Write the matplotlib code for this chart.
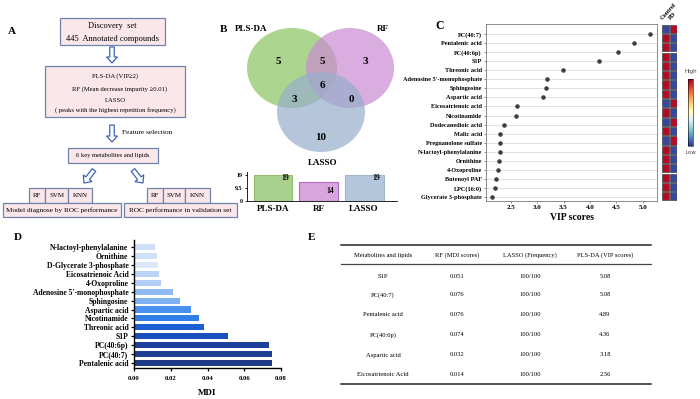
import matplotlib
matplotlib.use('Agg')
import matplotlib.pyplot as plt
from matplotlib.patches import Rectangle, Ellipse, FancyArrow
from matplotlib.cm import ScalarMappable
import numpy as np

plt.rcParams['font.family'] = ['Liberation Serif', 'DejaVu Serif']

W, H = 700, 399

# ---------------- data ----------------
# panel B: venn regions and set sizes
venn_sets = ['PLS-DA', 'RF', 'LASSO']
venn_regions = ['PLS-DA only', 'PLS-DA&RF', 'RF only', 'all', 'PLS-DA&LASSO', 'RF&LASSO', 'LASSO only']
venn_counts = [5, 5, 3, 6, 3, 0, 10]
set_sizes = [19, 14, 19]

# panel C: VIP scores (top to bottom)
vip_names = ['PC(40:7)', 'Pentalenic acid', 'PC(40:6p)', 'S1P', 'Threonic acid',
             "Adenosine 5'-monophosphate", 'Sphingosine', 'Aspartic acid',
             'Eicosatrienoic acid', 'Nicotinamide', 'Dodecanedioic acid', 'Malic acid',
             'Pregnanolone sulfate', 'N-lactoyl-phenylalanine', 'Ornithine',
             '4-Oxoproline', 'Butenoyl PAF', 'LPC(16:0)', 'Glycerate 3-phosphate']
vip_scores = [5.13, 4.84, 4.53, 4.17, 3.48, 3.19, 3.16, 3.11, 2.62, 2.59,
              2.37, 2.30, 2.30, 2.29, 2.28, 2.25, 2.22, 2.20, 2.14]
control_high = [0, 1, 1, 1, 1, 1, 1, 1, 0, 1, 0, 1, 0, 1, 1, 1, 1, 1, 1]
groups = ['Control', 'PD']

# panel D: MDI (top to bottom)
mdi_names = ['N-lactoyl-phenylalanine', 'Ornithine', 'D-Glycerate 3-phosphate',
             'Eicosatrienoic Acid', '4-Oxoproline', "Adenosine 5'-monophosphate",
             'Sphingosine', 'Aspartic acid', 'Nicotinamide', 'Threonic acid', 'S1P',
             'PC(40:6p)', 'PC(40:7)', 'Pentalenic acid']
mdi_values = [0.0116, 0.0124, 0.0129, 0.0138, 0.0147, 0.0211, 0.0249, 0.0312,
              0.0352, 0.0383, 0.0509, 0.0732, 0.0750, 0.0750]
mdi_colors = ['#cfe0fa', '#cfe0fa', '#dce9fd', '#bad4f8', '#b2cef8', '#8fbaf4',
              '#7fb0f2', '#4b8ff0', '#2f7ee9', '#1b5fd0', '#1a4fbf', '#1b3f9b',
              '#1e3f90', '#1d3a85']

# panel E: table
table_header = ['Metabolites and lipids', 'RF (MDI scores)', 'LASSO (Frequency)', 'PLS-DA (VIP scores)']
tab_names = ['S1P', 'PC(40:7)', 'Pentalenic acid', 'PC(40:6p)', 'Aspartic acid', 'Eicosatrienoic Acid']
tab_mdi = ['0.051', '0.076', '0.076', '0.074', '0.032', '0.014']
tab_lasso = ['100/100'] * 6
tab_vip = ['5.08', '5.08', '4.89', '4.36', '3.18', '2.56']


fig = plt.figure(figsize=(7, 3.99), dpi=100)


def pax(x0, y0, x1, y1):
    return fig.add_axes([x0 / W, 1 - y1 / H, (x1 - x0) / W, (y1 - y0) / H])


ov = fig.add_axes([0, 0, 1, 1])
ov.set_xlim(0, W)
ov.set_ylim(H, 0)
ov.axis('off')

# ---------------- panel A: flow chart ----------------
box_fc, box_ec, arr_ec = '#fbe6e9', '#6f83ad', '#3f66b4'


def box(x0, y0, x1, y1):
    ov.add_patch(Rectangle((x0, y0), x1 - x0, y1 - y0, fc=box_fc, ec=box_ec, lw=0.9))


def arrow(x, y, dx, dy):
    ov.add_patch(FancyArrow(x, y, dx, dy, width=4.5, head_width=11, head_length=6,
                            length_includes_head=True, fc='white', ec=arr_ec, lw=0.9))


ov.text(12, 31, 'A', fontsize=8, fontweight='bold', ha='center', va='center')
box(60, 18, 165, 45)
ov.text(112, 26, 'Discovery  set', fontsize=6, ha='center', va='center')
ov.text(112, 39, '445  Annotated compounds', fontsize=6, ha='center', va='center')
arrow(112, 47, 0, 16)
box(45, 66, 185, 117)
ov.text(115, 76, 'PLS-DA (VIP≥2)', fontsize=4.8, ha='center', va='center')
ov.text(120, 89, 'RF (Mean decrease impurity ≥0.01)', fontsize=4.8, ha='center', va='center')
ov.text(115, 100, 'LASSO', fontsize=4.8, ha='center', va='center')
ov.text(115, 110, '( peaks with the highest repetition frequency)', fontsize=4.8, ha='center', va='center')
arrow(112, 125, 0, 17)
ov.text(122, 133, 'Feature selection', fontsize=5.3, ha='left', va='center')
box(68, 148, 158, 163)
ov.text(113, 155.5, '6 key metabolites and lipids', fontsize=4.7, ha='center', va='center')
arrow(94, 170, -10, 13)
arrow(133, 170, 10, 13)
for cells in ([(29, 45, 'RF'), (45, 68, 'SVM'), (68, 92, 'KNN')],
              [(147, 163, 'RF'), (163, 185, 'SVM'), (185, 210, 'KNN')]):
    for a, b, t in cells:
        box(a, 188, b, 203)
        ov.text((a + b) / 2, 195.5, t, fontsize=5, ha='center', va='center')
box(3, 203, 121, 217)
ov.text(62, 210, 'Model diagnose by ROC performance', fontsize=5.2, ha='center', va='center')
box(124, 203, 237, 217)
ov.text(180, 210, 'ROC performance in validation set', fontsize=5.2, ha='center', va='center')

# ---------------- panel B: venn ----------------
ov.text(224, 30, 'B', fontsize=8, fontweight='bold', ha='center', va='center')
ov.add_patch(Ellipse((292, 68), 90, 80, fc='#8fc76a', alpha=0.75, lw=0))
ov.add_patch(Ellipse((350, 68), 88, 80, fc='#c98ad2', alpha=0.7, lw=0))
ov.add_patch(Ellipse((321, 112), 88, 80, fc='#98aecb', alpha=0.7, lw=0))
venn_xy = [(278, 62), (322, 61), (365, 61), (322, 86), (294, 100), (351, 100), (321, 137)]
for (x, y), n in zip(venn_xy, venn_counts):
    ov.text(x, y, str(n), fontsize=8, fontweight='bold', ha='center', va='center')
ov.text(251, 29, venn_sets[0], fontsize=6.5, fontweight='bold', ha='center', va='center')
ov.text(383, 29, venn_sets[1], fontsize=6.5, fontweight='bold', ha='center', va='center')
ov.text(323, 163, venn_sets[2], fontsize=6.5, fontweight='bold', ha='center', va='center')

axb = pax(247, 172, 397, 201)
xb = np.arange(len(set_sizes))
bar_fc = ['#a9d18e', '#d8a5dc', '#b4c6dc']
bar_ec = ['#93c06f', '#b56ac2', '#9fb4cd']
axb.bar(xb, set_sizes, width=0.85, color=bar_fc, edgecolor=bar_ec, lw=0.8)
label_drop = [2.6, 7.0, 2.6]
for x, v, d in zip(xb, set_sizes, label_drop):
    axb.text(x + 0.26, v - d, str(v), fontsize=5.5, fontweight='bold', ha='center', va='center')
axb.set_xlim(-0.57, 2.72)
axb.set_ylim(0, 21)
axb.set_yticks([0, 9.5, 19])
axb.set_yticklabels(['0', '9.5', '19'], fontsize=4.3, fontweight='bold')
axb.set_xticks(xb)
axb.set_xticklabels(venn_sets, fontsize=6.5, fontweight='bold')
axb.tick_params(axis='x', length=0, pad=3)
axb.tick_params(axis='y', length=1.5, width=0.6, pad=1.5)
for s in ['top', 'right']:
    axb.spines[s].set_visible(False)
for s in ['left', 'bottom']:
    axb.spines[s].set_linewidth(0.6)

# ---------------- panel C: VIP dot plot ----------------
ov.text(440, 26, 'C', fontsize=8.5, fontweight='bold', ha='center', va='center')
axc = pax(486, 24, 657, 201)
yc = np.arange(len(vip_names))
for y in yc:
    axc.axhline(y, color='#e2e2e2', lw=0.7, zorder=0)
axc.scatter(vip_scores, yc, s=5, color='#3c3c3c', zorder=3)
axc.set_ylim(18.43, -1.1)
axc.set_xlim(2.03, 5.27)
axc.set_yticks(yc)
axc.set_yticklabels(vip_names, fontsize=4.5, fontweight='bold')
axc.set_xticks([2.5, 3.0, 3.5, 4.0, 4.5, 5.0])
axc.set_xticklabels(['2.5', '3.0', '3.5', '4.0', '4.5', '5.0'], fontsize=5, fontweight='bold')
axc.tick_params(length=1.5, width=0.5, pad=1.5, color='#666')
axc.set_xlabel('VIP scores', fontsize=7, fontweight='bold', labelpad=2)
for s in axc.spines.values():
    s.set_color('#777')
    s.set_linewidth(0.6)

cmap = plt.get_cmap('RdYlBu_r')
axh = pax(662, 24, 677, 201)
for i, c in enumerate(control_high):
    vals = [c, 1 - c]
    for j, v in enumerate(vals):
        axh.add_patch(Rectangle((j + 0.05, i + 0.06), 0.9, 0.88, fc=cmap(0.97 if v else 0.03),
                                ec='#555555', lw=0.6))
axh.set_xlim(0, 2)
axh.set_ylim(len(control_high), 0)
axh.axis('off')
for j, g in enumerate(groups):
    ov.text(663 + 9 * j, 21, g, fontsize=4.5, fontweight='bold', rotation=48,
            rotation_mode='anchor', ha='left', va='bottom')

cax = pax(688, 79, 693, 146)
cb = fig.colorbar(ScalarMappable(cmap=cmap), cax=cax)
cb.set_ticks([])
cb.outline.set_linewidth(0.4)
ov.text(691, 72, 'High', fontsize=4, family='DejaVu Sans', color='#444', ha='center', va='center')
ov.text(691, 152, 'Low', fontsize=4, family='DejaVu Sans', color='#444', ha='center', va='center')

# ---------------- panel D: MDI bars ----------------
ov.text(18, 237, 'D', fontsize=8, fontweight='bold', ha='center', va='center')
axd = pax(134, 240, 281, 368)
n = len(mdi_names)
yd = n - 1 - np.arange(n)
axd.barh(yd, mdi_values, height=0.68, color=mdi_colors)
axd.set_ylim(-0.56, n - 0.2)
axd.set_xlim(0, 0.08)
axd.set_yticks(yd)
axd.set_yticklabels(mdi_names, fontsize=5.5, fontweight='bold')
axd.set_xticks([0, 0.02, 0.04, 0.06, 0.08])
axd.set_xticklabels(['0.00', '0.02', '0.04', '0.06', '0.08'], fontsize=4.8, fontweight='bold')
axd.tick_params(length=2.5, width=0.9, pad=1.5)
axd.tick_params(axis='x', pad=3)
axd.set_xlabel('MDI', fontsize=6.5, fontweight='bold', labelpad=6)
for s in ['top', 'right']:
    axd.spines[s].set_visible(False)
for s in ['left', 'bottom']:
    axd.spines[s].set_linewidth(1.0)

# ---------------- panel E: table ----------------
ov.text(312, 238, 'E', fontsize=8, fontweight='bold', ha='center', va='center')
col_x = [383, 457, 530, 605]
ov.plot([341, 651], [245, 245], color='#222', lw=1.1)
ov.plot([341, 651], [264, 264], color='#444', lw=0.9)
ov.plot([341, 651], [384, 384], color='#222', lw=1.1)
for x, t in zip(col_x, table_header):
    ov.text(x, 255, t, fontsize=4.7, ha='center', va='center')
for i in range(len(tab_names)):
    y = 276 + 20 * i - (1 if i else 0)
    for x, t in zip(col_x, [tab_names[i], tab_mdi[i], tab_lasso[i], tab_vip[i]]):
        ov.text(x, y, t, fontsize=4.7, ha='center', va='center')

fig.savefig('out.png', dpi=100)
